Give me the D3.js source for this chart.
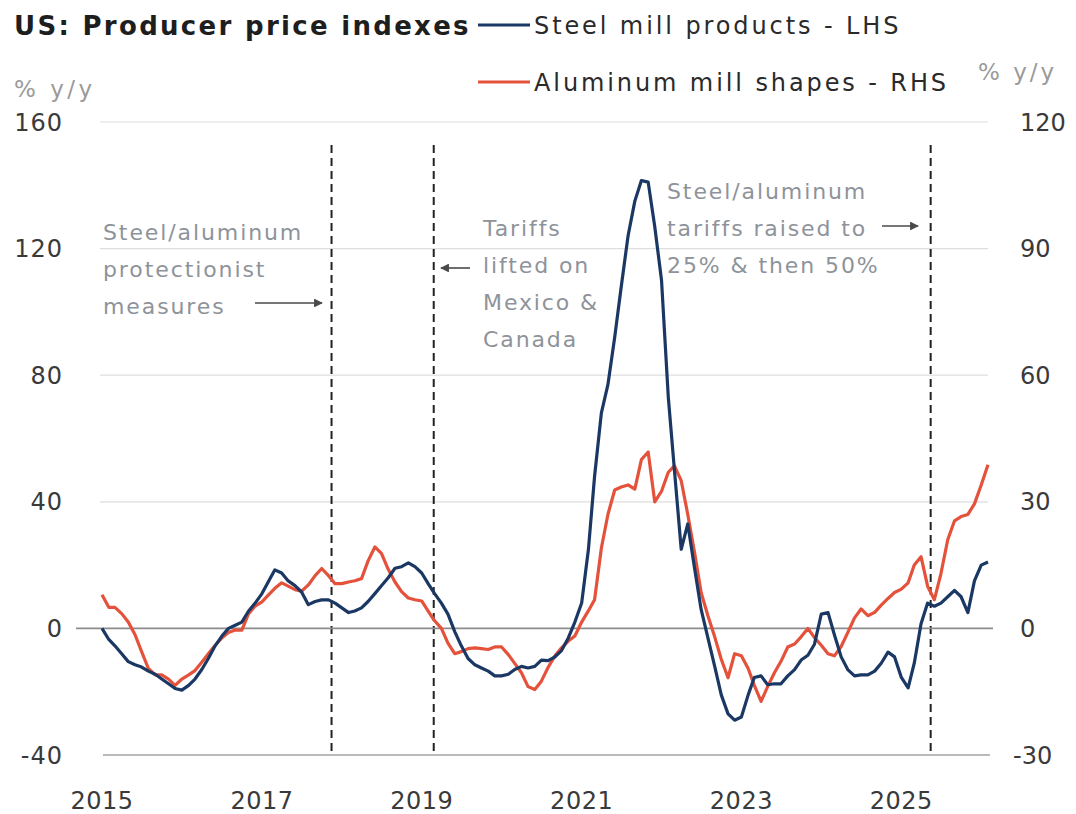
<!DOCTYPE html>
<html>
<head>
<meta charset="utf-8">
<script src="https://cdn.jsdelivr.net/npm/d3@7"></script>
<style>
  html, body { margin: 0; padding: 0; background: #fff; }
  svg text { font-family: "DejaVu Sans", "Noto Sans", sans-serif; }
</style>
</head>
<body>
<svg id="chart" width="1076" height="814"></svg>
<script>
// Monthly % y/y, Jan 2015 – Feb 2026
const startMonth = new Date(2015, 0, 1);

const steelMill = [
  0, -3.5, -5.5, -8, -10.5, -11.5, -12.2, -13.5, -14.5, -16, -17.5, -19,
  -19.5, -18, -16, -13, -9.5, -5.5, -2.5, 0, 1, 2, 5.5, 8,
  11, 15, 18.5, 17.5, 15, 13.5, 11.5, 7.5, 8.5, 9, 9, 8,
  6.5, 5, 5.5, 6.5, 8.5, 11, 13.5, 16, 19, 19.5, 20.7, 19.5,
  17.5, 14, 11, 8, 4.5, -1, -5.5, -9.5, -11.5, -12.5, -13.5, -15,
  -15, -14.5, -13, -12, -12.5, -12, -10, -10.2, -9, -7, -3, 2,
  8, 25, 48, 68, 77, 92, 108, 124, 135, 141.5, 141, 127,
  110, 73, 50, 25, 33, 19, 6, -3, -12, -21, -27, -29,
  -28, -21, -15.5, -15, -17.8, -17.5, -17.5, -15, -13, -10, -8.5, -5,
  4.5, 5, -2, -9, -13, -15, -14.7, -14.7, -13.5, -11, -7.5, -9,
  -15.5, -18.8, -11, 1.5, 8, 7, 8, 10, 12, 10, 5, 15,
  20, 21
];

const aluminumMill = [
  8, 5, 5, 3.5, 1.5, -1.5, -5.5, -9.5, -11, -11, -12, -13.5,
  -12, -11, -10, -8, -6, -4, -2.3, -1, -0.4, -0.4, 3.5, 5.3,
  6.3, 8, 9.5, 10.8, 10, 9.2, 8.8, 10.3, 12.5, 14.2, 12.5, 10.6,
  10.6, 11, 11.3, 11.8, 16, 19.3, 17.8, 14, 11, 8.7, 7.2, 6.8,
  6.5, 4, 1.8, 0, -3.5, -6, -5.5, -4.8, -4.6, -4.8, -5, -4.4,
  -4.4, -6.2, -8.3, -10.5, -13.8, -14.5, -12.5, -9.2, -6.5, -4.6, -3, -1.8,
  1.5, 4.2, 6.8, 19, 27, 32.8, 33.5, 34, 33, 40, 41.8, 30,
  32.5, 37, 38.5, 35, 27, 18, 8.5, 3, -2, -7.3, -11.7, -6,
  -6.5, -9.5, -13.5, -17.3, -13.8, -10.5, -7.8, -4.4, -3.7, -2, 0, -2.2,
  -4, -6, -6.5, -4.3, -1, 2.5, 4.6, 3, 3.8, 5.5, 7.1, 8.5,
  9.3, 10.8, 15, 17, 10, 6.8, 13, 21, 25.5, 26.5, 27, 29.5,
  34, 38.8
];

const leftTicks = [-40, 0, 40, 80, 120, 160];
const rightTicks = [-30, 0, 30, 60, 90, 120];
const yearTicks = [2015, 2017, 2019, 2021, 2023, 2025];

const events = [
  { date: new Date(2017, 10, 15) },
  { date: new Date(2019, 1, 25) },
  { date: new Date(2025, 4, 15) }
];

const annotations = [
  { x: 103, y: 240, lines: ["Steel/aluminum", "protectionist", "measures"] },
  { x: 483, y: 236, lines: ["Tariffs", "lifted on", "Mexico &", "Canada"] },
  { x: 667, y: 199, lines: ["Steel/aluminum", "tariffs raised to", "25% & then 50%"] }
];

const arrows = [
  { x1: 255, x2: 322, y: 303 },
  { x1: 470, x2: 441, y: 268 },
  { x1: 882, x2: 918, y: 226 }
];

const steelColor = "#1b3864";
const aluColor = "#e4523c";

const svg = d3.select("#chart");

const monthDate = i => d3.timeMonth.offset(startMonth, i);

const x = d3.scaleTime()
  .domain([startMonth, monthDate(steelMill.length - 1)])
  .range([102, 988]);
const yL = d3.scaleLinear().domain([-40, 160]).range([755, 122]);
const yR = d3.scaleLinear().domain([-30, 120]).range([755, 122]);

// Gridlines
svg.append("g").selectAll("line")
  .data(leftTicks.filter(d => d !== 0 && d !== -40))
  .join("line")
  .attr("x1", 100).attr("x2", 988)
  .attr("y1", d => yL(d)).attr("y2", d => yL(d))
  .attr("stroke", "#dedede").attr("stroke-width", 1.2);

svg.append("line")
  .attr("x1", 103).attr("x2", 990)
  .attr("y1", yL(-40)).attr("y2", yL(-40))
  .attr("stroke", "#a3a3a3").attr("stroke-width", 1.6);

// Event markers
svg.append("g").selectAll("line")
  .data(events)
  .join("line")
  .attr("x1", d => x(d.date)).attr("x2", d => x(d.date))
  .attr("y1", 145).attr("y2", yL(-40))
  .attr("stroke", "#222").attr("stroke-width", 2)
  .attr("stroke-dasharray", "8,5");

svg.append("line")
  .attr("x1", 76).attr("x2", 993)
  .attr("y1", yL(0)).attr("y2", yL(0))
  .attr("stroke", "#8c8c8c").attr("stroke-width", 1.6);

// Axis labels
svg.append("g").selectAll("text")
  .data(leftTicks)
  .join("text")
  .attr("x", 63).attr("y", d => yL(d))
  .attr("dy", "0.36em")
  .attr("text-anchor", "end")
  .attr("font-size", 24)
  .attr("letter-spacing", 1)
  .attr("fill", "#3a3a3a")
  .text(d => d);

svg.append("g").selectAll("text")
  .data(rightTicks)
  .join("text")
  .attr("x", d => d < 0 ? 1013 : 1020).attr("y", d => yR(d))
  .attr("dy", "0.36em")
  .attr("text-anchor", "start")
  .attr("font-size", 24)
  .attr("fill", "#3a3a3a")
  .text(d => d);

svg.append("g").selectAll("text")
  .data(yearTicks)
  .join("text")
  .attr("x", d => x(new Date(d, 0, 1)))
  .attr("y", 800)
  .attr("dy", "0.36em")
  .attr("text-anchor", "middle")
  .attr("font-size", 24)
  .attr("letter-spacing", 0.5)
  .attr("fill", "#3a3a3a")
  .text(d => d);

svg.append("text").attr("x", 14).attr("y", 97)
  .attr("font-size", 23).attr("letter-spacing", 3.5)
  .attr("fill", "#9a9a9a").text("% y/y");
svg.append("text").attr("x", 978).attr("y", 80)
  .attr("font-size", 23).attr("letter-spacing", 3)
  .attr("fill", "#9a9a9a").text("% y/y");

// Annotations
const annG = svg.append("g");
annotations.forEach(a => {
  const t = annG.append("text")
    .attr("x", a.x).attr("y", a.y)
    .attr("font-size", 22).attr("letter-spacing", 1.9)
    .attr("fill", "#8e939a");
  a.lines.forEach((line, k) => {
    t.append("tspan").attr("x", a.x).attr("dy", k === 0 ? 0 : 37).text(line);
  });
});

svg.append("defs").append("marker")
  .attr("id", "arrowhead")
  .attr("viewBox", "0 0 10 10")
  .attr("refX", 9).attr("refY", 5)
  .attr("markerWidth", 5.5).attr("markerHeight", 5.5)
  .attr("orient", "auto-start-reverse")
  .append("path")
  .attr("d", "M0,0 L10,5 L0,10 z")
  .attr("fill", "#4a4a4a");

svg.append("g").selectAll("line")
  .data(arrows)
  .join("line")
  .attr("x1", d => d.x1).attr("x2", d => d.x2)
  .attr("y1", d => d.y).attr("y2", d => d.y)
  .attr("stroke", "#4a4a4a").attr("stroke-width", 1.6)
  .attr("marker-end", "url(#arrowhead)");

// Series
const lineL = d3.line()
  .x((d, i) => x(monthDate(i)))
  .y(d => yL(d));
const lineR = d3.line()
  .x((d, i) => x(monthDate(i)))
  .y(d => yR(d));

svg.append("path")
  .datum(aluminumMill)
  .attr("d", lineR)
  .attr("fill", "none")
  .attr("stroke", aluColor)
  .attr("stroke-width", 3.2)
  .attr("stroke-linejoin", "round");

svg.append("path")
  .datum(steelMill)
  .attr("d", lineL)
  .attr("fill", "none")
  .attr("stroke", steelColor)
  .attr("stroke-width", 3.2)
  .attr("stroke-linejoin", "round");

// Title and legend
svg.append("text").attr("x", 14).attr("y", 35)
  .attr("font-size", 26).attr("font-weight", 700)
  .attr("letter-spacing", 2.3)
  .attr("fill", "#1e1e1e")
  .text("US: Producer price indexes");

const legend = [
  { label: "Steel mill products - LHS", color: steelColor, y: 25 },
  { label: "Aluminum mill shapes - RHS", color: aluColor, y: 82 }
];
const lg = svg.append("g").selectAll("g").data(legend).join("g");
lg.append("line")
  .attr("x1", 478).attr("x2", 530)
  .attr("y1", d => d.y).attr("y2", d => d.y)
  .attr("stroke", d => d.color).attr("stroke-width", 3);
lg.append("text")
  .attr("x", 534).attr("y", d => d.y)
  .attr("dy", "0.36em")
  .attr("font-size", 24).attr("letter-spacing", 2.9)
  .attr("fill", "#2a2a2a")
  .text(d => d.label);
</script>
</body>
</html>
